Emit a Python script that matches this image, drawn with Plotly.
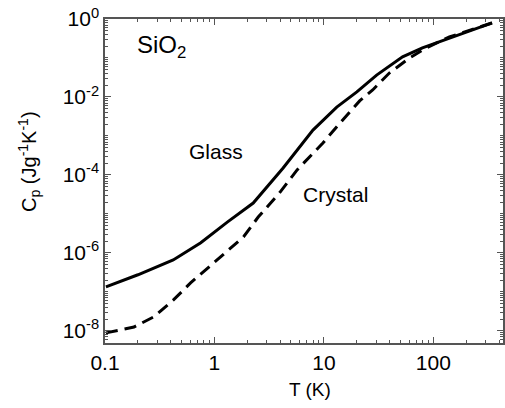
import plotly.graph_objects as go

# Data
glass_T = [0.102, 0.20, 0.42, 0.75, 1.31, 2.26, 4.24, 7.94, 13.1, 20, 30.3, 52.3, 79.4, 140, 344]
glass_logCp = [-6.87, -6.56, -6.18, -5.74, -5.21, -4.72, -3.82, -2.85, -2.26, -1.87, -1.44, -0.97, -0.74, -0.49, -0.10]

crystal_T = [0.102, 0.184, 0.279, 0.42, 0.605, 0.83, 1.21, 1.84, 2.51, 3.98, 5.69, 9.79, 14.0, 21.2, 27.9, 39.8, 60.5, 86.3, 140, 344]
crystal_logCp = [-8.05, -7.90, -7.64, -7.21, -6.77, -6.44, -6.05, -5.59, -5.08, -4.44, -3.87, -3.18, -2.67, -2.10, -1.82, -1.38, -1.00, -0.74, -0.46, -0.10]

x_tickvals = [0.1, 1, 10, 100]
x_ticktext = ["0.1", "1", "10", "100"]
y_exps = [0, -2, -4, -6, -8]

glass_Cp = [10 ** v for v in glass_logCp]
crystal_Cp = [10 ** v for v in crystal_logCp]

FONT = "Liberation Sans, Arial, Helvetica, sans-serif"
AX = "#555555"

fig = go.Figure()
fig.add_trace(go.Scatter(x=glass_T, y=glass_Cp, mode="lines",
                         line=dict(color="black", width=3), showlegend=False))
fig.add_trace(go.Scatter(x=crystal_T, y=crystal_Cp, mode="lines",
                         line=dict(color="black", width=3, dash="12px,7px"), showlegend=False))

x_minor = [m * 10 ** d for d in range(-1, 3) for m in range(2, 10)]
y_minor = [m * 10 ** d for d in range(-9, 0) for m in range(1, 10)
           if not (m == 1 and d % 2 == 0)]
y_tickvals = [10 ** e for e in y_exps]
y_ticktext = ["10<sup>%d</sup>" % e for e in y_exps]

fig.update_layout(
    width=505, height=408,
    margin=dict(l=105, r=0, t=19, b=65),
    paper_bgcolor="white", plot_bgcolor="white",
    font=dict(family=FONT, size=20, color="black"),
    xaxis=dict(type="log", range=[-1, 2.636],
               tickmode="array", tickvals=x_tickvals, ticktext=x_ticktext,
               ticks="inside", ticklen=6, tickwidth=1.2, tickcolor=AX,
               showline=True, linecolor=AX, linewidth=1.5, mirror="ticks",
               showgrid=False, zeroline=False,
               minor=dict(tickmode="array", tickvals=x_minor, ticks="inside",
                          ticklen=3, tickwidth=1, tickcolor=AX, showgrid=False),
               tickfont=dict(size=21)),
    yaxis=dict(type="log", range=[-8.31, 0],
               tickmode="array", tickvals=y_tickvals, ticktext=y_ticktext,
               ticks="inside", ticklen=6, tickwidth=1.2, tickcolor=AX,
               showline=True, linecolor=AX, linewidth=1.5, mirror="ticks",
               showgrid=False, zeroline=False,
               minor=dict(tickmode="array", tickvals=y_minor, ticks="inside",
                          ticklen=3, tickwidth=1, tickcolor=AX, showgrid=False),
               tickfont=dict(size=21)),
    annotations=[
        dict(text="T (K)", x=0.515, y=-0.145, xref="paper", yref="paper",
             xanchor="center", yanchor="middle", showarrow=False, font=dict(size=19)),
        dict(text="C<sub>p</sub> (Jg<sup>-1</sup>K<sup>-1</sup>)", textangle=-90,
             x=-0.19, y=0.56, xref="paper", yref="paper",
             xanchor="center", yanchor="middle", showarrow=False, font=dict(size=20)),
        dict(text="SiO<sub>2</sub>", x=0.075, y=0.915, xref="paper", yref="paper",
             xanchor="left", yanchor="middle", showarrow=False, font=dict(size=24)),
        dict(text="Glass", x=0.28, y=0.59, xref="paper", yref="paper",
             xanchor="center", yanchor="middle", showarrow=False, font=dict(size=21)),
        dict(text="Crystal", x=0.58, y=0.457, xref="paper", yref="paper",
             xanchor="center", yanchor="middle", showarrow=False, font=dict(size=21)),
    ],
)

fig.write_html("out.html")
